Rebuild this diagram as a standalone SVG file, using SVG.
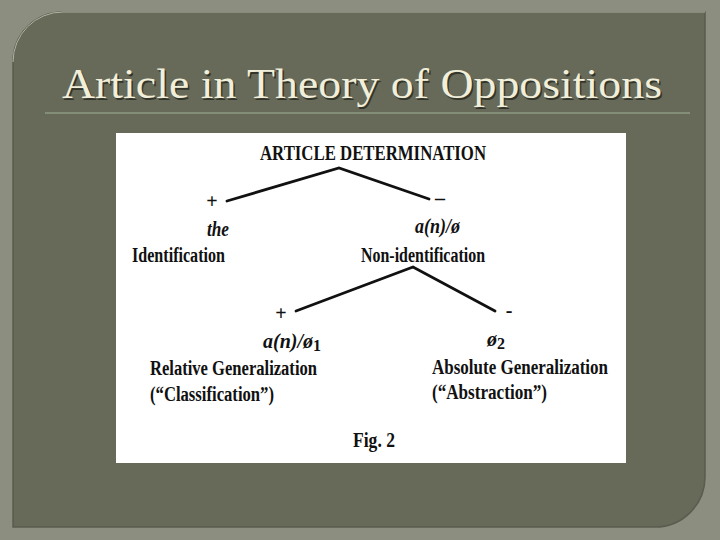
<svg xmlns="http://www.w3.org/2000/svg" width="720" height="540" viewBox="0 0 720 540">
<style>
.t{font-family:"Liberation Serif","Times New Roman",serif;font-weight:bold;fill:#111;font-size:20px}
.i{font-style:italic}
.s{font-size:16px;font-style:normal}
.title{font-family:"Liberation Serif","DejaVu Serif",serif;font-size:42px}
.edge{stroke:#111;stroke-width:2.8;fill:none;stroke-linecap:round}
</style>
<rect x="0" y="0" width="720" height="540" fill="#8c8e7f"/>
<path d="M13,62 A50,50 0 0 1 63,12 L705,12 L705,477 A50,50 0 0 1 655,527 L13,527 Z" fill="#676959" stroke="#5a5c4e" stroke-width="1.5"/>
<path d="M13,62 A50,50 0 0 1 63,12 L705,12" fill="none" stroke="#b4b6a4" stroke-width="1"/>
<g id="title">
<text class="title" x="63.5" y="99.5" textLength="600" lengthAdjust="spacingAndGlyphs" fill="#33352b">Article in Theory of Oppositions</text>
<text class="title" x="62" y="98" textLength="600" lengthAdjust="spacingAndGlyphs" fill="#f1efd9">Article in Theory of Oppositions</text>
</g>
<line x1="45" y1="113" x2="690" y2="113" stroke="#8c9b84" stroke-width="1.5"/>
<rect x="116" y="133" width="510" height="330" fill="#ffffff"/>
<g id="connectors">
<polyline class="edge" points="227,201 339,168 429,199"/>
<polyline class="edge" points="296,311 413,267 495,311"/>
</g>
<g id="root"><text class="t" x="260" y="160" textLength="226" lengthAdjust="spacingAndGlyphs">ARTICLE DETERMINATION</text></g>
<g id="plus1"><text class="t" x="212" y="208" font-size="15" text-anchor="middle">+</text></g>
<g id="minus1"><text class="t" x="440" y="205" font-size="15" text-anchor="middle">–</text></g>
<g id="identification">
<text class="t i" x="207" y="236" textLength="22" lengthAdjust="spacingAndGlyphs">the</text>
<text class="t" x="132" y="262" textLength="93" lengthAdjust="spacingAndGlyphs">Identification</text>
</g>
<g id="non-identification">
<text class="t i" x="415" y="233" textLength="45" lengthAdjust="spacingAndGlyphs">a(n)/ø</text>
<text class="t" x="361" y="262" textLength="124" lengthAdjust="spacingAndGlyphs">Non-identification</text>
</g>
<g id="plus2"><text class="t" x="281" y="320" font-size="15" text-anchor="middle">+</text></g>
<g id="minus2"><text class="t" x="509" y="317" font-size="15" text-anchor="middle">-</text></g>
<g id="relative">
<text class="t i" x="263" y="348" font-size="19">a(n)/ø<tspan class="s" dy="3">1</tspan></text>
<text class="t" x="150" y="375" textLength="167" lengthAdjust="spacingAndGlyphs">Relative  Generalization</text>
<text class="t" x="150" y="401" textLength="124" lengthAdjust="spacingAndGlyphs">(“Classification”)</text>
</g>
<g id="absolute">
<text class="t i" x="487" y="346">ø<tspan class="s" dy="3">2</tspan></text>
<text class="t" x="432" y="374" textLength="176" lengthAdjust="spacingAndGlyphs">Absolute  Generalization</text>
<text class="t" x="432" y="399" textLength="115" lengthAdjust="spacingAndGlyphs">(“Abstraction”)</text>
</g>
<g id="caption"><text class="t" x="353" y="447" font-size="18" textLength="42" lengthAdjust="spacingAndGlyphs">Fig. 2</text></g>
</svg>
